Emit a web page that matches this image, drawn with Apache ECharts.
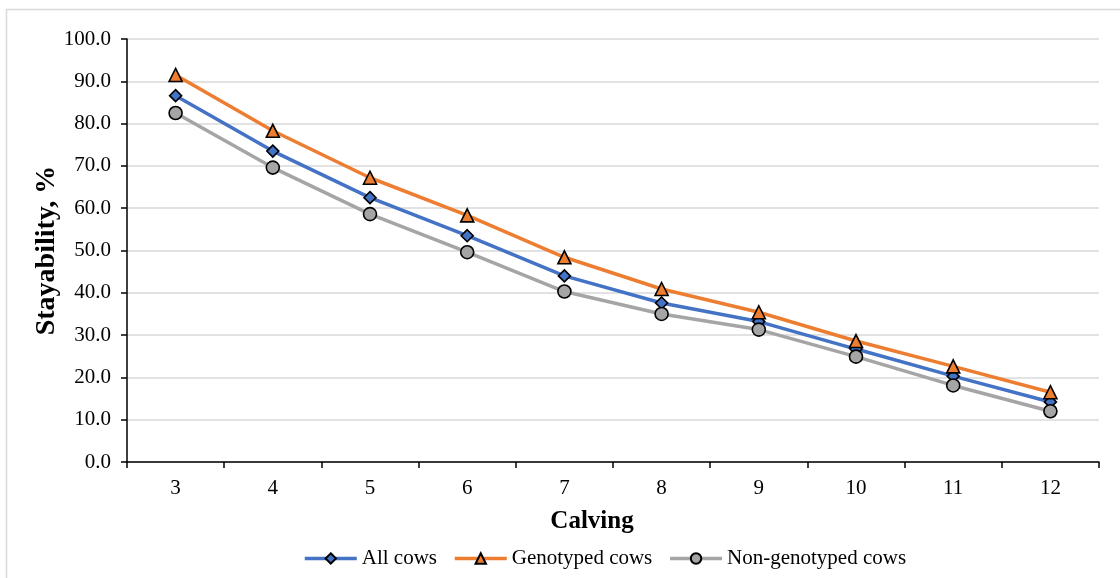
<!DOCTYPE html>
<html>
<head>
<meta charset="utf-8">
<script src="https://cdn.jsdelivr.net/npm/echarts@6/dist/echarts.min.js"></script>
<style>
  html, body { margin: 0; padding: 0; background: #ffffff; }
  #chart { width: 1120px; height: 578px; }
</style>
</head>
<body>
<div id="chart"></div>
<script>
// Calving number (parity)
const calvings = ['3', '4', '5', '6', '7', '8', '9', '10', '11', '12'];

// Stayability (%) to each calving
const allCows = [86.6, 73.5, 62.5, 53.5, 44.0, 37.6, 33.2, 26.7, 20.3, 14.2];
const genotypedCows = [91.5, 78.3, 67.2, 58.3, 48.4, 40.9, 35.4, 28.6, 22.6, 16.5];
const nonGenotypedCows = [82.5, 69.6, 58.6, 49.6, 40.3, 35.0, 31.3, 24.9, 18.1, 12.0];

const FONT = '"Liberation Serif", "Times New Roman", serif';

function lineSeries(name, data, color, symbol, size) {
  return {
    name: name,
    type: 'line',
    data: data,
    symbol: symbol,
    symbolSize: size,
    showAllSymbol: true,
    lineStyle: { color: color, width: 3.5 },
    itemStyle: { color: color, borderColor: '#000000', borderWidth: 1.6 },
    emphasis: { disabled: true },
    z: 3
  };
}

const chart = echarts.init(document.getElementById('chart'), null, { renderer: 'canvas' });

chart.setOption({
  animation: false,
  backgroundColor: '#ffffff',
  textStyle: { fontFamily: FONT, color: '#000000' },
  graphic: [{
    type: 'rect',
    shape: { x: 6.5, y: 9.5, width: 1200, height: 700 },
    style: { fill: 'none', stroke: '#d9d9d9', lineWidth: 1.5 },
    silent: true,
    z: -10
  }],
  grid: { left: 127, right: 21, top: 39, bottom: 116 },
  legend: {
    bottom: 4,
    left: 298,
    itemWidth: 52,
    itemHeight: 13,
    itemGap: 16,
    lineStyle: { width: 3.5 },
    textStyle: { fontFamily: FONT, fontSize: 21, color: '#000000' },
    data: ['All cows', 'Genotyped cows', 'Non-genotyped cows']
  },
  xAxis: {
    type: 'category',
    data: calvings,
    boundaryGap: true,
    name: 'Calving',
    nameLocation: 'middle',
    nameGap: 47,
    nameMoveOverlap: false,
    nameTextStyle: {
      fontFamily: FONT, fontSize: 25, fontWeight: 'bold', color: '#000000',
      padding: [0, 42, 0, 0]
    },
    axisLine: { lineStyle: { color: '#000000', width: 1.5 } },
    axisTick: { show: true, alignWithLabel: false, length: 6, lineStyle: { color: '#000000', width: 1.5 } },
    axisLabel: { fontFamily: FONT, fontSize: 21, color: '#000000', margin: 16 },
    splitLine: { show: false }
  },
  yAxis: {
    type: 'value',
    min: 0,
    max: 100,
    interval: 10,
    name: 'Stayability, %',
    nameLocation: 'middle',
    nameGap: 66,
    nameMoveOverlap: false,
    nameTextStyle: { fontFamily: FONT, fontSize: 28, fontWeight: 'bold', color: '#000000' },
    axisLine: { show: true, lineStyle: { color: '#000000', width: 1.5 } },
    axisTick: { show: true, length: 6, lineStyle: { color: '#000000', width: 1.5 } },
    axisLabel: {
      fontFamily: FONT, fontSize: 21, color: '#000000', margin: 16,
      formatter: function (v) { return v.toFixed(1); }
    },
    splitLine: { show: true, lineStyle: { color: '#d9d9d9', width: 1.5 } }
  },
  series: [
    lineSeries('All cows', allCows, '#4472C4', 'diamond', 12),
    lineSeries('Genotyped cows', genotypedCows, '#ED7D31', 'triangle', 13),
    lineSeries('Non-genotyped cows', nonGenotypedCows, '#A5A5A5', 'circle', 13)
  ]
});
</script>
</body>
</html>
